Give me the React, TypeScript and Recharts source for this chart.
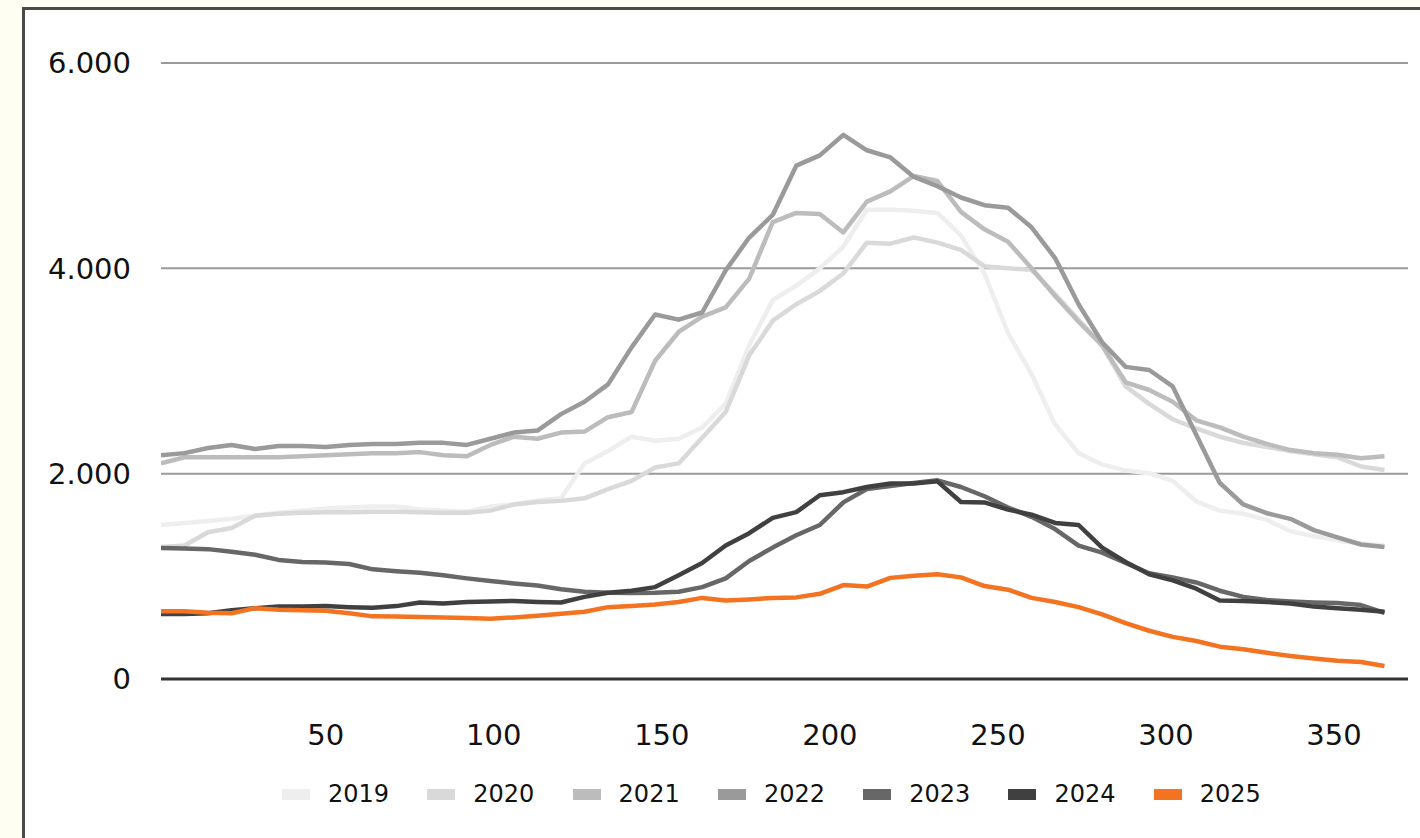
import React from 'react';
import { LineChart, Line, XAxis, YAxis, CartesianGrid, Legend } from 'recharts';

const days = [1, 8, 15, 22, 29, 36, 43, 50, 57, 64, 71, 78, 85, 92, 99, 106, 113, 120, 127, 134, 141, 148, 155, 162, 169, 176, 183, 190, 197, 204, 211, 218, 225, 232, 239, 246, 253, 260, 267, 274, 281, 288, 295, 302, 309, 316, 323, 330, 337, 344, 351, 358, 365];

const xTicks = [50, 100, 150, 200, 250, 300, 350];
const yTicks = [0, 2000, 4000, 6000];

const s2019 = [1500, 1520, 1540, 1560, 1590, 1620, 1640, 1660, 1670, 1680, 1680, 1650, 1640, 1630, 1680, 1700, 1740, 1760, 2100, 2220, 2360, 2320, 2340, 2450, 2680, 3250, 3690, 3830, 4000, 4210, 4570, 4570, 4560, 4540, 4320, 3950, 3370, 2970, 2480, 2200, 2090, 2030, 2005, 1930, 1730, 1640, 1610, 1550, 1440, 1390, 1350, 1320, 1300];
const s2020 = [1285, 1300, 1430, 1470, 1590, 1610, 1620, 1625, 1625, 1630, 1630, 1625, 1620, 1620, 1640, 1700, 1725, 1735, 1760, 1850, 1930, 2060, 2100, 2350, 2600, 3150, 3490, 3650, 3780, 3950, 4250, 4240, 4300, 4250, 4180, 4020, 4000, 3985, 3750, 3500, 3250, 2850, 2680, 2530, 2440, 2360, 2300, 2260, 2220, 2190, 2160, 2070, 2035];
const s2021 = [2100, 2160, 2160, 2160, 2160, 2160, 2170, 2180, 2190, 2200, 2200, 2210, 2180, 2170, 2280, 2360, 2340, 2400, 2410, 2550, 2600, 3100, 3380, 3530, 3620, 3900, 4450, 4540, 4530, 4350, 4650, 4750, 4900, 4850, 4550, 4380, 4260, 4000, 3730, 3480, 3250, 2890, 2815, 2700, 2520, 2450, 2360, 2290, 2230, 2200, 2185, 2150, 2170];
const s2022 = [2180, 2200, 2250, 2280, 2240, 2270, 2270, 2260, 2280, 2290, 2290, 2300, 2300, 2280, 2340, 2400, 2420, 2580, 2700, 2870, 3230, 3550, 3500, 3570, 3980, 4300, 4520, 5000, 5100, 5300, 5150, 5080, 4890, 4800, 4690, 4615, 4590, 4400, 4100, 3650, 3280, 3040, 3010, 2850, 2380, 1910, 1700, 1615, 1560, 1450, 1380, 1310, 1285];
const s2023 = [1276, 1270, 1265, 1240, 1210, 1160, 1140, 1135, 1120, 1068, 1050, 1035, 1010, 980, 955, 930, 910, 875, 850, 840, 838, 840, 850, 895, 980, 1150, 1280, 1400, 1500, 1720, 1850, 1880, 1910, 1935, 1870, 1780, 1670, 1580, 1460, 1300, 1230, 1130, 1030, 990, 940, 860, 800, 770, 755, 745, 740, 720, 645];
const s2024 = [633, 633, 640, 670, 690, 705, 705, 710, 700, 695, 710, 745, 735, 750, 755, 760, 750, 745, 800, 840, 860, 895, 1010, 1130, 1300, 1420, 1570, 1625, 1790, 1820, 1870, 1905, 1905, 1925, 1724, 1720, 1650, 1600, 1520, 1500, 1280, 1140, 1020, 960, 880, 765, 760, 750, 735, 705, 690, 675, 655];
const s2025 = [660, 660, 645, 640, 690, 675, 670, 665, 640, 610, 608, 605, 600, 595, 588, 600, 615, 635, 655, 700, 710, 725, 750, 790, 765, 775, 790, 795, 830, 915, 900, 985, 1005, 1020, 990, 905, 870, 790, 750, 700, 630, 545, 470, 410, 370, 315, 290, 255, 225, 200, 178, 165, 127];

const years = ['2019', '2020', '2021', '2022', '2023', '2024', '2025'];
const seriesValues = [s2019, s2020, s2021, s2022, s2023, s2024, s2025];
const seriesColors = ['#eeeeee', '#d9d9d9', '#bcbcbc', '#9a9a9a', '#676767', '#404040', '#f47321'];

const data = days.map((d, i) => {
  const row: Record<string, number> = { day: d };
  years.forEach((y, k) => {
    row[y] = seriesValues[k][i];
  });
  return row;
});

const FONT = '"DejaVu Sans", sans-serif';

const fmt = (v: number) => String(v).replace(/\B(?=(\d{3})+(?!\d))/g, '.');

function LegendContent(props: any) {
  const payload = props.payload || [];
  return (
    <div
      style={{
        display: 'flex',
        alignItems: 'center',
        paddingLeft: 282,
        height: 30,
        fontFamily: FONT,
        fontSize: 24,
        color: '#111',
      }}
    >
      {payload.map((p: any) => (
        <div key={p.value} style={{ flex: '0 0 145.3px', display: 'flex', alignItems: 'center' }}>
          <span style={{ display: 'inline-block', width: 28, height: 11, background: p.color, marginRight: 18 }} />
          <span>{p.value}</span>
        </div>
      ))}
    </div>
  );
}

export default function App() {
  return (
    <div style={{ position: 'fixed', left: 0, top: 0, width: 1420, height: 838, background: '#fffef2', overflow: 'hidden' }}>
      <div
        style={{
          position: 'absolute',
          left: 22,
          top: 7,
          width: 1420,
          height: 900,
          border: '3px solid #4a4a4a',
          background: '#ffffff',
          boxSizing: 'border-box',
        }}
      />
      <div style={{ position: 'absolute', left: 0, top: 0 }}>
        <LineChart width={1420} height={838} data={data} margin={{ top: 63, right: 12, bottom: 99, left: 0 }}>
          <CartesianGrid vertical={false} stroke="#9a9a9a" strokeWidth={2} />
          <XAxis
            dataKey="day"
            type="number"
            domain={[1, 372]}
            ticks={xTicks}
            height={60}
            tickLine={false}
            tickSize={6}
            tickMargin={39}
            axisLine={{ stroke: '#333333', strokeWidth: 3 }}
            tick={{ fontFamily: FONT, fontSize: 29, fill: '#111' }}
            allowDataOverflow
          />
          <YAxis
            type="number"
            domain={[0, 6000]}
            ticks={yTicks}
            width={161}
            tickLine={false}
            axisLine={false}
            tickSize={6}
            tickMargin={24}
            tickFormatter={fmt}
            tick={{ fontFamily: FONT, fontSize: 29, fill: '#111' }}
          />
          <Legend
            verticalAlign="middle"
            align="center"
            layout="horizontal"
            content={<LegendContent />}
            wrapperStyle={{ top: 779, left: 0, width: 1420, height: 30 }}
          />
          {years.map((y, k) => (
            <Line
              key={y}
              type="linear"
              dataKey={y}
              name={y}
              stroke={seriesColors[k]}
              strokeWidth={4.5}
              strokeLinejoin="round"
              dot={false}
              activeDot={false}
              isAnimationActive={false}
            />
          ))}
        </LineChart>
      </div>
    </div>
  );
}
